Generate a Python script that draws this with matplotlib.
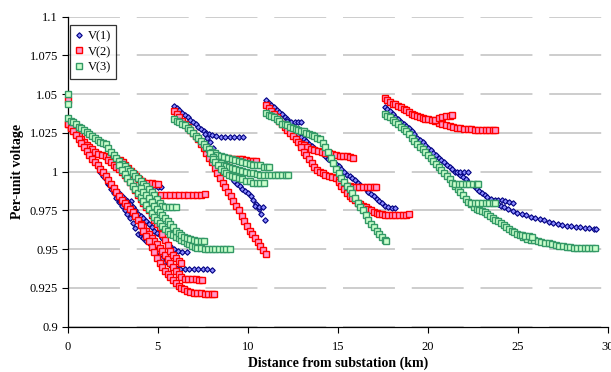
import numpy as np
import matplotlib
matplotlib.use("Agg")
import matplotlib.pyplot as plt

plt.rcParams['font.family'] = ['Liberation Serif', 'DejaVu Serif']

# ---- V(1) branches (km, per-unit) ----
v1_start = [(0.0, 1.046)]
v1_f1_trunk = [(0.0, 1.031), (0.15, 1.0285), (0.3, 1.026), (0.45, 1.0235), (0.6, 1.021), (0.75, 1.0185),
               (0.9, 1.016), (1.05, 1.0135), (1.2, 1.011), (1.35, 1.0085), (1.5, 1.006), (1.65, 1.003),
               (1.8, 1.000), (1.95, 0.9975), (2.1, 0.995), (2.25, 0.992), (2.4, 0.989), (2.55, 0.986),
               (2.7, 0.983), (2.85, 0.9805), (3.0, 0.978), (3.15, 0.9755), (3.3, 0.973), (3.45, 0.970),
               (3.6, 0.967), (3.75, 0.9635), (3.9, 0.960), (4.05, 0.9585), (4.2, 0.957), (4.35, 0.9555),
               (4.5, 0.954), (4.65, 0.952), (4.8, 0.950), (4.95, 0.948), (5.1, 0.946), (5.25, 0.944),
               (5.4, 0.942), (5.55, 0.941), (5.7, 0.940), (5.85, 0.939), (6.0, 0.938), (6.25, 0.937),
               (6.5, 0.937), (6.75, 0.937), (7.0, 0.937), (7.25, 0.937), (7.5, 0.937), (7.75, 0.937),
               (8.0, 0.9365)]
v1_f1_b1 = [(2.9, 0.981), (3.1, 0.981), (3.3, 0.981), (3.5, 0.981)]
v1_f1_b2 = [(4.05, 0.9605), (4.25, 0.9605), (4.45, 0.9603)]
v1_f1_b3 = [(2.25, 0.993), (2.4, 0.991), (2.55, 0.9895), (2.7, 0.988), (2.85, 0.986), (3.0, 0.984),
            (3.15, 0.9825), (3.3, 0.981), (3.45, 0.979), (3.6, 0.977), (3.75, 0.975), (3.9, 0.973),
            (4.05, 0.9715), (4.2, 0.970), (4.35, 0.968), (4.5, 0.966), (4.65, 0.964), (4.8, 0.962),
            (4.95, 0.9605), (5.1, 0.959), (5.25, 0.957), (5.4, 0.955), (5.55, 0.9535), (5.7, 0.952),
            (5.9, 0.950), (6.1, 0.949), (6.35, 0.948), (6.6, 0.948)]
v1_f1_b4 = [(4.2, 0.992), (4.4, 0.9915), (4.6, 0.991), (4.8, 0.990), (5.0, 0.990), (5.15, 0.990)]
v1_f2_a = [(5.9, 1.0427), (6.05, 1.041), (6.2, 1.0397), (6.35, 1.038), (6.5, 1.0365), (6.65, 1.035),
           (6.8, 1.0335), (6.95, 1.032), (7.1, 1.0305), (7.25, 1.029), (7.4, 1.0275), (7.55, 1.026),
           (7.7, 1.025), (7.85, 1.024), (8.0, 1.0235), (8.25, 1.023), (8.5, 1.0225), (8.75, 1.0225),
           (9.0, 1.0225), (9.25, 1.0225), (9.5, 1.0225), (9.75, 1.0225)]
v1_f2_b = [(7.6, 1.024), (7.75, 1.0215), (7.9, 1.019), (8.05, 1.0155), (8.2, 1.012), (8.35, 1.009),
           (8.5, 1.006), (8.65, 1.003), (8.8, 1.000), (8.95, 0.998), (9.1, 0.996), (9.25, 0.994),
           (9.4, 0.992), (9.55, 0.9905), (9.7, 0.989), (9.85, 0.9875), (10.0, 0.986), (10.15, 0.984),
           (10.3, 0.982), (10.45, 0.979), (10.6, 0.976), (10.75, 0.9725), (10.95, 0.969)]
v1_f2_c = [(10.4, 0.978), (10.6, 0.9775), (10.85, 0.977)]
v1_f3_a = [(11.0, 1.046), (11.15, 1.0445), (11.3, 1.043), (11.45, 1.0415), (11.6, 1.040), (11.75, 1.0385),
           (11.9, 1.037), (12.05, 1.0355), (12.2, 1.034), (12.35, 1.031), (12.5, 1.028), (12.65, 1.026),
           (12.8, 1.024), (12.95, 1.0225), (13.1, 1.021), (13.25, 1.0195), (13.4, 1.018), (13.55, 1.0165),
           (13.7, 1.015), (13.85, 1.014), (14.0, 1.013), (14.15, 1.0115), (14.3, 1.010), (14.45, 1.0085),
           (14.6, 1.007), (14.75, 1.006), (14.9, 1.005), (15.05, 1.0035), (15.2, 1.002), (15.35, 1.000),
           (15.5, 0.998), (15.65, 0.997), (15.8, 0.996), (15.95, 0.9945), (16.1, 0.993), (16.25, 0.9915),
           (16.4, 0.990), (16.55, 0.9885), (16.7, 0.987), (16.85, 0.9855), (17.0, 0.984), (17.15, 0.9825),
           (17.3, 0.981), (17.45, 0.9795), (17.6, 0.978), (17.8, 0.977), (18.0, 0.9765), (18.15, 0.9765)]
v1_f3_b = [(12.2, 1.033), (12.4, 1.032), (12.6, 1.032), (12.8, 1.032), (12.95, 1.032)]
v1_f4_a = [(17.6, 1.042), (17.75, 1.0405), (17.9, 1.039), (18.05, 1.037), (18.2, 1.0355), (18.35, 1.034),
           (18.5, 1.032), (18.65, 1.031), (18.8, 1.0295), (18.95, 1.028), (19.1, 1.026), (19.25, 1.024),
           (19.4, 1.022), (19.55, 1.0205), (19.7, 1.019), (19.85, 1.017), (20.0, 1.0155), (20.15, 1.014),
           (20.3, 1.012), (20.45, 1.0105), (20.6, 1.009), (20.75, 1.0075), (20.9, 1.006), (21.05, 1.0045),
           (21.2, 1.003), (21.35, 1.0015), (21.5, 1.000), (21.65, 0.999), (21.8, 0.998), (21.95, 0.9965),
           (22.1, 0.995), (22.25, 0.9935), (22.4, 0.992), (22.55, 0.9905), (22.7, 0.989), (22.85, 0.9875),
           (23.0, 0.986), (23.15, 0.985), (23.3, 0.9835), (23.45, 0.982), (23.6, 0.981), (23.75, 0.980),
           (23.9, 0.979), (24.05, 0.978), (24.2, 0.977), (24.45, 0.9758), (24.7, 0.9745), (24.95, 0.9735),
           (25.2, 0.9727), (25.45, 0.9718), (25.7, 0.971), (25.95, 0.970), (26.2, 0.9693), (26.45, 0.9685),
           (26.7, 0.9677), (26.95, 0.967), (27.2, 0.966), (27.45, 0.9656), (27.7, 0.9651), (27.95, 0.9647),
           (28.2, 0.9643), (28.45, 0.964), (28.7, 0.9636), (28.95, 0.9634), (29.2, 0.9633), (29.35, 0.9633)]
v1_f4_b = [(21.6, 1.000), (21.8, 0.9998), (22.0, 0.9995), (22.2, 0.9995)]
v1_f4_c = [(23.5, 0.9825), (23.7, 0.982), (23.9, 0.982), (24.1, 0.9815), (24.3, 0.981), (24.5, 0.9805),
           (24.7, 0.980)]

# ---- V(2) branches ----
v2_start = [(0.0, 1.0465)]
v2_f1_a = [(0.0, 1.031), (0.15, 1.029), (0.3, 1.027), (0.45, 1.025), (0.6, 1.023), (0.75, 1.021),
           (0.9, 1.019), (1.05, 1.0175), (1.2, 1.016), (1.35, 1.0145), (1.5, 1.013), (1.7, 1.0115),
           (1.9, 1.0105), (2.1, 1.010), (2.3, 1.0093), (2.5, 1.0087), (2.7, 1.008), (2.9, 1.0075),
           (3.05, 1.006), (3.2, 1.004), (3.35, 1.0023), (3.5, 1.0003), (3.65, 0.9985), (3.8, 0.997),
           (3.95, 0.9955), (4.1, 0.994), (4.25, 0.993), (4.45, 0.993), (4.65, 0.9925), (4.85, 0.992),
           (5.0, 0.992)]
v2_f1_b = [(4.2, 0.990), (4.35, 0.988), (4.5, 0.987), (4.7, 0.9857), (4.95, 0.985), (5.2, 0.985),
           (5.45, 0.985), (5.7, 0.985), (5.95, 0.985), (6.2, 0.985), (6.45, 0.985), (6.7, 0.985),
           (6.95, 0.985), (7.2, 0.985), (7.4, 0.9852), (7.6, 0.9855)]
v2_f1_c = [(0.0, 1.031), (0.15, 1.0285), (0.3, 1.026), (0.45, 1.0235), (0.6, 1.021), (0.75, 1.0185),
           (0.9, 1.016), (1.05, 1.0135), (1.2, 1.011), (1.35, 1.0085), (1.5, 1.006), (1.65, 1.004),
           (1.8, 1.002), (1.95, 0.9995), (2.1, 0.997), (2.25, 0.9945), (2.4, 0.992), (2.55, 0.9895),
           (2.7, 0.987), (2.85, 0.9845), (3.0, 0.982), (3.15, 0.980), (3.3, 0.978), (3.45, 0.976),
           (3.6, 0.974), (3.75, 0.9715), (3.9, 0.969), (4.05, 0.9665), (4.2, 0.964), (4.35, 0.962),
           (4.5, 0.960), (4.65, 0.9575), (4.8, 0.955), (4.95, 0.953), (5.1, 0.951), (5.25, 0.9485),
           (5.4, 0.946), (5.55, 0.9435), (5.7, 0.941), (5.85, 0.9385), (6.0, 0.936), (6.15, 0.934),
           (6.3, 0.932), (6.5, 0.931), (6.7, 0.931), (6.9, 0.931), (7.1, 0.9305), (7.3, 0.930),
           (7.45, 0.930)]
v2_f1_d = [(4.05, 0.9655), (4.2, 0.962), (4.35, 0.9585), (4.5, 0.955), (4.65, 0.9515), (4.8, 0.948),
           (4.95, 0.9445), (5.1, 0.941), (5.25, 0.9385), (5.4, 0.936), (5.55, 0.934), (5.7, 0.932),
           (5.85, 0.930), (6.0, 0.928), (6.15, 0.9265), (6.3, 0.925), (6.45, 0.924), (6.6, 0.923),
           (6.8, 0.9222), (7.0, 0.922), (7.2, 0.922), (7.4, 0.9215), (7.6, 0.921), (7.8, 0.921),
           (8.0, 0.921), (8.1, 0.921)]
v2_f1_e = [(2.25, 1.0075), (2.4, 1.006), (2.55, 1.0045), (2.7, 1.003), (2.85, 1.0015), (3.0, 1.000),
           (3.15, 0.998), (3.3, 0.996), (3.45, 0.9935), (3.6, 0.991), (3.75, 0.988), (3.9, 0.985),
           (4.05, 0.9825), (4.2, 0.980), (4.35, 0.9775), (4.5, 0.975), (4.65, 0.972), (4.8, 0.969),
           (4.95, 0.9665), (5.1, 0.964), (5.25, 0.960), (5.4, 0.956), (5.55, 0.9525), (5.7, 0.949),
           (5.85, 0.9465), (6.0, 0.944), (6.15, 0.9425), (6.3, 0.941)]
v2_f2_a = [(5.9, 1.039), (6.05, 1.037), (6.2, 1.035), (6.35, 1.033), (6.5, 1.031), (6.65, 1.029),
           (6.8, 1.027), (6.95, 1.025), (7.1, 1.023), (7.25, 1.0212), (7.4, 1.018), (7.55, 1.015),
           (7.7, 1.012), (7.85, 1.009), (8.0, 1.006), (8.15, 1.0025), (8.3, 0.999), (8.45, 0.996),
           (8.6, 0.993), (8.75, 0.990), (8.9, 0.987), (9.05, 0.984), (9.2, 0.981), (9.35, 0.978),
           (9.5, 0.975), (9.65, 0.9715), (9.8, 0.968), (9.95, 0.965), (10.1, 0.962), (10.25, 0.9595),
           (10.4, 0.957), (10.55, 0.9545), (10.7, 0.952), (10.85, 0.9495), (11.0, 0.947)]
v2_f2_b = [(7.7, 1.015), (7.9, 1.013), (8.1, 1.011), (8.3, 1.010), (8.5, 1.0093), (8.7, 1.009),
           (8.9, 1.009), (9.1, 1.0085), (9.3, 1.008), (9.5, 1.008), (9.7, 1.008), (9.9, 1.0075),
           (10.1, 1.007), (10.3, 1.007), (10.45, 1.007)]
v2_f3_a = [(11.0, 1.043), (11.15, 1.041), (11.3, 1.039), (11.45, 1.037), (11.6, 1.035), (11.75, 1.033),
           (11.9, 1.031), (12.05, 1.029), (12.2, 1.027), (12.35, 1.025), (12.5, 1.023), (12.65, 1.021),
           (12.8, 1.019), (12.95, 1.018), (13.1, 1.017), (13.3, 1.0157), (13.5, 1.0147), (13.7, 1.014),
           (13.9, 1.0133), (14.1, 1.0127), (14.3, 1.012), (14.5, 1.012), (14.7, 1.0115), (14.9, 1.011),
           (15.1, 1.0103), (15.3, 1.010), (15.5, 1.010), (15.7, 1.0093), (15.85, 1.009)]
v2_f3_b = [(12.95, 1.016), (13.1, 1.013), (13.25, 1.0105), (13.4, 1.008), (13.55, 1.0055), (13.7, 1.003),
           (13.85, 1.0013), (14.0, 1.000), (14.15, 0.999), (14.3, 0.998), (14.5, 0.9973), (14.7, 0.9967),
           (14.9, 0.996), (15.05, 0.9945), (15.2, 0.993), (15.35, 0.992), (15.5, 0.991), (15.65, 0.9905),
           (15.8, 0.990), (16.0, 0.990), (16.2, 0.990), (16.4, 0.990), (16.6, 0.990), (16.8, 0.990),
           (17.0, 0.990), (17.1, 0.990)]
v2_f3_c = [(15.05, 0.9935), (15.2, 0.991), (15.35, 0.9885), (15.5, 0.986), (15.65, 0.9845), (15.8, 0.983),
           (15.95, 0.9815), (16.1, 0.980), (16.25, 0.979), (16.4, 0.978), (16.55, 0.977), (16.7, 0.976),
           (16.85, 0.975), (17.0, 0.974), (17.15, 0.9735), (17.3, 0.973), (17.45, 0.9725), (17.6, 0.972),
           (17.8, 0.972), (18.0, 0.972), (18.2, 0.972), (18.4, 0.972), (18.6, 0.972), (18.8, 0.9722),
           (18.95, 0.9725)]
v2_f4_a = [(17.6, 1.0473), (17.75, 1.046), (17.9, 1.045), (18.05, 1.044), (18.2, 1.0435), (18.35, 1.0425),
           (18.5, 1.0415), (18.65, 1.0405), (18.8, 1.0395), (18.95, 1.0385), (19.1, 1.0375), (19.25, 1.0365),
           (19.4, 1.036), (19.55, 1.0353), (19.7, 1.0345), (19.85, 1.034), (20.0, 1.0337), (20.2, 1.0333),
           (20.4, 1.033), (20.6, 1.0315), (20.8, 1.0305), (21.0, 1.030), (21.2, 1.0293), (21.4, 1.029),
           (21.6, 1.0283), (21.8, 1.028), (22.0, 1.0278), (22.2, 1.0275), (22.4, 1.0275), (22.6, 1.0272),
           (22.8, 1.027), (23.0, 1.027), (23.2, 1.027), (23.4, 1.0268), (23.6, 1.0268), (23.75, 1.0268)]
v2_f4_b = [(20.4, 1.0335), (20.6, 1.0345), (20.8, 1.035), (21.0, 1.0357), (21.2, 1.036), (21.35, 1.0365)]

# ---- V(3) branches ----
v3_start = [(0.0, 1.050), (0.0, 1.044)]
v3_f1_a = [(0.0, 1.0345), (0.15, 1.033), (0.3, 1.032), (0.45, 1.0305), (0.6, 1.029), (0.75, 1.028),
           (0.9, 1.027), (1.05, 1.0255), (1.2, 1.024), (1.35, 1.023), (1.5, 1.022), (1.65, 1.0205),
           (1.8, 1.019), (1.95, 1.0185), (2.1, 1.018), (2.25, 1.0155), (2.4, 1.013), (2.55, 1.011),
           (2.7, 1.009), (2.85, 1.007), (3.0, 1.005), (3.15, 1.0035), (3.3, 1.002), (3.45, 1.0005),
           (3.6, 0.999), (3.75, 0.9975), (3.9, 0.996), (4.05, 0.994), (4.2, 0.992), (4.35, 0.9905),
           (4.5, 0.989), (4.65, 0.987), (4.8, 0.985), (4.95, 0.9825), (5.1, 0.980), (5.25, 0.978),
           (5.4, 0.977), (5.6, 0.977), (5.8, 0.977), (6.0, 0.977)]
v3_f1_b = [(2.85, 1.004), (3.0, 1.001), (3.15, 0.9985), (3.3, 0.996), (3.45, 0.9935), (3.6, 0.991),
           (3.75, 0.9885), (3.9, 0.986), (4.05, 0.9835), (4.2, 0.981), (4.35, 0.9785), (4.5, 0.976),
           (4.65, 0.9735), (4.8, 0.971), (4.95, 0.969), (5.1, 0.967), (5.25, 0.965), (5.4, 0.963),
           (5.55, 0.9615), (5.7, 0.960), (5.85, 0.959), (6.0, 0.958), (6.15, 0.957), (6.3, 0.956),
           (6.45, 0.955), (6.6, 0.954), (6.75, 0.953), (6.9, 0.952), (7.05, 0.9515), (7.2, 0.951),
           (7.4, 0.9505), (7.6, 0.950), (7.8, 0.950), (8.0, 0.950), (8.2, 0.950), (8.4, 0.950),
           (8.6, 0.950), (8.8, 0.950), (9.0, 0.950)]
v3_f1_c = [(4.05, 0.9895), (4.2, 0.987), (4.35, 0.985), (4.5, 0.983), (4.65, 0.9805), (4.8, 0.978),
           (4.95, 0.976), (5.1, 0.974), (5.25, 0.972), (5.4, 0.970), (5.55, 0.968), (5.7, 0.966),
           (5.85, 0.964), (6.0, 0.962), (6.15, 0.9605), (6.3, 0.959), (6.45, 0.958), (6.6, 0.957),
           (6.8, 0.9563), (7.0, 0.9557), (7.2, 0.955), (7.4, 0.955), (7.55, 0.955)]
v3_f2_a = [(5.9, 1.034), (6.05, 1.033), (6.2, 1.032), (6.35, 1.031), (6.5, 1.030), (6.65, 1.0285),
           (6.8, 1.027), (6.95, 1.025), (7.1, 1.023), (7.25, 1.0215), (7.4, 1.020), (7.55, 1.018),
           (7.7, 1.016), (7.85, 1.0145), (8.0, 1.013), (8.15, 1.012), (8.3, 1.011), (8.5, 1.010),
           (8.7, 1.0095), (8.9, 1.009), (9.1, 1.0083), (9.3, 1.0077), (9.5, 1.007), (9.7, 1.0063),
           (9.9, 1.0057), (10.1, 1.005), (10.3, 1.0043), (10.5, 1.004), (10.7, 1.004), (10.9, 1.0033),
           (11.05, 1.003), (11.2, 1.003)]
v3_f2_b = [(7.9, 1.012), (8.05, 1.0095), (8.2, 1.008), (8.35, 1.0065), (8.5, 1.0055), (8.65, 1.0045),
           (8.8, 1.0035), (8.95, 1.003), (9.1, 1.0023), (9.3, 1.0017), (9.5, 1.001), (9.7, 1.0003),
           (9.9, 0.9997), (10.1, 0.999), (10.3, 0.999), (10.5, 0.9985), (10.7, 0.998), (10.9, 0.998),
           (11.1, 0.998), (11.3, 0.998), (11.5, 0.998), (11.7, 0.998), (11.9, 0.998), (12.1, 0.998),
           (12.25, 0.998)]
v3_f2_c = [(8.05, 1.008), (8.2, 1.006), (8.35, 1.004), (8.5, 1.002), (8.65, 1.0005), (8.8, 0.999),
           (8.95, 0.998), (9.1, 0.997), (9.3, 0.9963), (9.5, 0.9957), (9.7, 0.995), (9.9, 0.9943),
           (10.1, 0.9937), (10.3, 0.993), (10.5, 0.993), (10.7, 0.993), (10.9, 0.993)]
v3_f3 = [(11.0, 1.0376), (11.15, 1.0368), (11.3, 1.036), (11.45, 1.035), (11.6, 1.034), (11.75, 1.0325),
         (11.9, 1.031), (12.05, 1.0305), (12.2, 1.030), (12.35, 1.029), (12.5, 1.028), (12.65, 1.0275),
         (12.8, 1.027), (12.95, 1.0265), (13.1, 1.026), (13.25, 1.025), (13.4, 1.024), (13.55, 1.0235),
         (13.7, 1.023), (13.85, 1.022), (14.0, 1.021), (14.15, 1.0185), (14.3, 1.016), (14.45, 1.0125),
         (14.6, 1.009), (14.75, 1.0055), (14.9, 1.002), (15.05, 0.999), (15.2, 0.996), (15.35, 0.9935),
         (15.5, 0.991), (15.65, 0.9885), (15.8, 0.986), (15.95, 0.983), (16.1, 0.980), (16.25, 0.9775),
         (16.4, 0.975), (16.55, 0.972), (16.7, 0.969), (16.85, 0.9665), (17.0, 0.964), (17.15, 0.962),
         (17.3, 0.960), (17.45, 0.958), (17.6, 0.956), (17.7, 0.955)]
v3_f4_a = [(17.6, 1.037), (17.75, 1.036), (17.9, 1.035), (18.05, 1.0335), (18.2, 1.032), (18.35, 1.0305),
           (18.5, 1.029), (18.65, 1.0275), (18.8, 1.026), (18.95, 1.024), (19.1, 1.022), (19.25, 1.020),
           (19.4, 1.018), (19.55, 1.016), (19.7, 1.0145), (19.85, 1.013), (20.0, 1.011), (20.15, 1.009),
           (20.3, 1.007), (20.45, 1.005), (20.6, 1.003), (20.75, 1.001), (20.9, 0.999), (21.05, 0.997),
           (21.2, 0.995), (21.35, 0.993), (21.5, 0.991), (21.65, 0.989), (21.8, 0.987), (21.95, 0.985),
           (22.1, 0.9825), (22.25, 0.9805), (22.4, 0.979), (22.55, 0.9775), (22.7, 0.976), (22.85, 0.975),
           (23.0, 0.9745), (23.15, 0.974), (23.3, 0.973), (23.45, 0.9715), (23.6, 0.970), (23.75, 0.969),
           (23.9, 0.968), (24.05, 0.967), (24.2, 0.9655), (24.35, 0.964), (24.5, 0.963), (24.65, 0.962),
           (24.8, 0.961), (24.95, 0.960), (25.1, 0.959), (25.3, 0.9578), (25.5, 0.9567), (25.7, 0.956),
           (25.9, 0.9557), (26.1, 0.9552), (26.3, 0.9545), (26.5, 0.9542), (26.7, 0.9537), (26.9, 0.953),
           (27.1, 0.9527), (27.3, 0.9523), (27.5, 0.952), (27.7, 0.9517), (27.9, 0.9514), (28.1, 0.951),
           (28.3, 0.951), (28.5, 0.9509), (28.7, 0.9508), (28.9, 0.9508), (29.1, 0.9508), (29.3, 0.9508)]
v3_f4_b = [(21.5, 0.992), (21.7, 0.992), (21.9, 0.992), (22.1, 0.992), (22.3, 0.992), (22.5, 0.992),
           (22.7, 0.992), (22.8, 0.992)]
v3_f4_c = [(22.4, 0.980), (22.6, 0.980), (22.8, 0.9797), (23.0, 0.9795), (23.2, 0.9795), (23.4, 0.9795),
           (23.6, 0.9795), (23.75, 0.9795)]
v3_f4_d = [(25.2, 0.959), (25.4, 0.9587), (25.6, 0.9585), (25.8, 0.958)]

v1_branches = [v1_start, v1_f1_trunk, v1_f1_b1, v1_f1_b2, v1_f1_b3, v1_f1_b4, v1_f2_a, v1_f2_b,
               v1_f2_c, v1_f3_a, v1_f3_b, v1_f4_a, v1_f4_b, v1_f4_c]
v2_branches = [v2_start, v2_f1_a, v2_f1_b, v2_f1_c, v2_f1_d, v2_f1_e, v2_f2_a, v2_f2_b,
               v2_f3_a, v2_f3_b, v2_f3_c, v2_f4_a, v2_f4_b]
v3_branches = [v3_start, v3_f1_a, v3_f1_b, v3_f1_c, v3_f2_a, v3_f2_b, v3_f2_c, v3_f3,
               v3_f4_a, v3_f4_b, v3_f4_c, v3_f4_d]

x_ticks = [0, 5, 10, 15, 20, 25, 30]
y_ticks = [0.9, 0.925, 0.95, 0.975, 1.0, 1.025, 1.05, 1.075, 1.1]
y_ticklabels = ['0.9', '0.925', '0.95', '0.975', '1', '1.025', '1.05', '1.075', '1.1']


def stack(branches):
    pts = np.array([p for b in branches for p in b])
    return pts[:, 0], pts[:, 1]


fig = plt.figure(figsize=(6.11, 3.72), dpi=100)
ax = fig.add_axes([0.111, 0.122, 0.884, 0.833])

styles = [
    ('V(1)', v1_branches, dict(marker='D', ms=2.8, mec='#000080', mfc='#8c8cff', mew=0.8)),
    ('V(2)', v2_branches, dict(marker='s', ms=3.8, mec='#ff0000', mfc='#ff99cc', mew=1.0)),
    ('V(3)', v3_branches, dict(marker='s', ms=3.8, mec='#339966', mfc='#ccffcc', mew=1.0)),
]
for i, (name, branches, st) in enumerate(styles):
    x, y = stack(branches)
    ax.plot(x, y, linestyle='none', label=name, zorder=3 + i, clip_on=False, **st)

ax.set_xlim(0, 30)
ax.set_ylim(0.9, 1.1)
ax.set_xticks(x_ticks)
ax.set_yticks(y_ticks)
ax.set_yticklabels(y_ticklabels)
ax.tick_params(axis='both', labelsize=9, length=4, width=0.8, direction='out', pad=3)
ax.tick_params(axis='x', pad=6)

for s in ['top', 'right']:
    ax.spines[s].set_visible(False)
for s in ['left', 'bottom']:
    ax.spines[s].set_linewidth(0.9)

ax.yaxis.grid(True, color='#c0c0c0', linewidth=1.1, linestyle=(0, (34, 11)))
ax.set_axisbelow(True)

ax.set_xlabel('Distance from substation (km)', fontsize=10, fontweight='bold', labelpad=3)
ax.set_ylabel('Per-unit voltage', fontsize=10, fontweight='bold', labelpad=4)

leg = ax.legend(loc='upper left', bbox_to_anchor=(0.004, 0.973), borderaxespad=0,
                fontsize=9, frameon=True, fancybox=False, handlelength=0.7,
                handletextpad=0.3, labelspacing=0.3, borderpad=0.4, markerscale=1.0)
leg.get_frame().set_edgecolor('black')
leg.get_frame().set_linewidth(0.9)

fig.savefig('out.png', dpi=100)
